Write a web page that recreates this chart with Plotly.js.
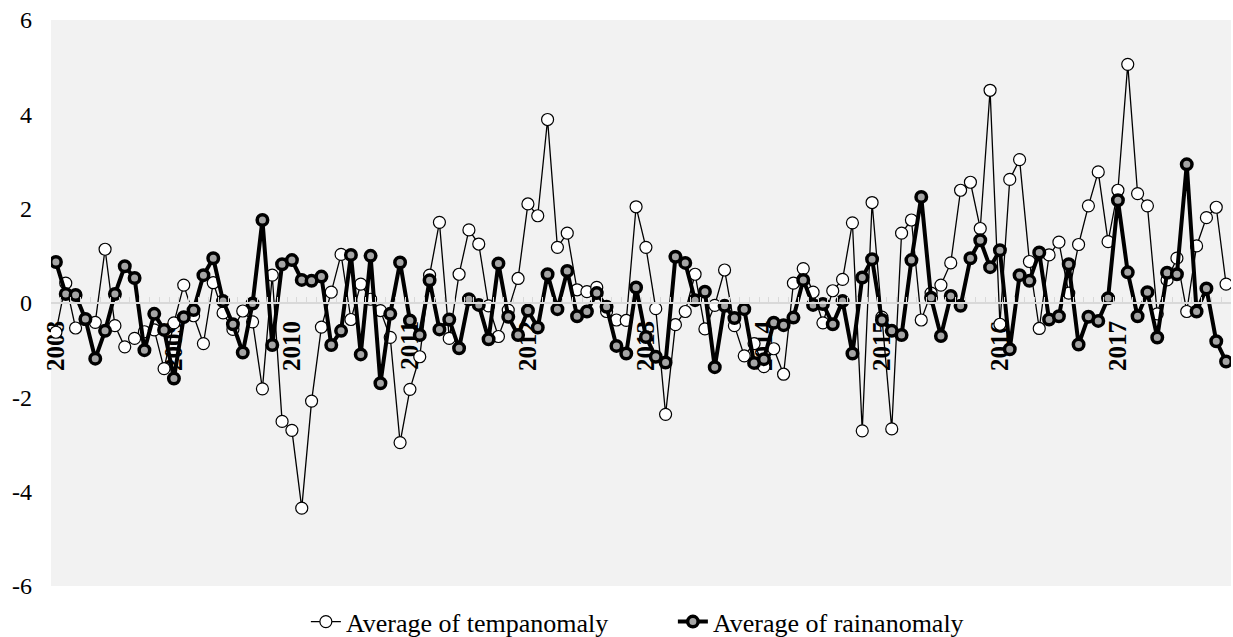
<!DOCTYPE html>
<html>
<head>
<meta charset="utf-8">
<script src="https://cdn.plot.ly/plotly-3.0.1.min.js"></script>
<style>html,body{margin:0;padding:0;background:#fff;}#chart{width:1233px;height:637px;}</style>
</head>
<body>
<div id="chart"></div>
<script>
const years = [2008, 2009, 2010, 2011, 2012, 2013, 2014, 2015, 2016, 2017];
const monthNums = ['01','02','03','04','05','06','07','08','09','10','11','12'];
const yearLabels = ['2008','2009','2010','2011','2012','2013','2014','2015','2016','2017'];
const yTickVals = [-6, -4, -2, 0, 2, 4, 6];
const yTickLabels = ['-6', '-4', '-2', '0', '2', '4', '6'];

const tempAnomaly = [
  -0.62, 0.42, -0.53, -0.35, -0.41, 1.14, -0.48, -0.93, -0.75, -0.61, -0.57, -1.39,
  -0.42, 0.38, -0.27, -0.86, 0.43, -0.21, -0.56, -0.17, -0.40, -1.82, 0.59, -2.51,
  -2.70, -4.35, -2.08, -0.51, 0.23, 1.03, -0.35, 0.40, 0.08, -0.16, -0.73, -2.96,
  -1.83, -1.14, 0.59, 1.71, -0.75, 0.61, 1.55, 1.25, -0.06, -0.71, -0.15, 0.52,
  2.10, 1.85, 3.89, 1.18, 1.48, 0.28, 0.24, 0.33, -0.18, -0.36, -0.37, 2.04,
  1.18, -0.12, -2.36, -0.46, -0.18, 0.61, -0.55, -0.05, 0.70, -0.48, -1.12, -0.86,
  -1.35, -0.97, -1.51, 0.42, 0.73, 0.23, -0.42, 0.26, 0.50, 1.70, -2.71, 2.13,
  -0.30, -2.67, 1.48, 1.76, -0.36, 0.21, 0.38, 0.85, 2.39, 2.56, 1.58, 4.51,
  -0.45, 2.62, 3.04, 0.88, -0.54, 1.02, 1.29, 0.21, 1.24, 2.06, 2.78, 1.30,
  2.39, 5.06, 2.32, 2.06, -0.23, 0.49, 0.95, -0.18, 1.21, 1.81, 2.03, 0.40
];

const rainAnomaly = [
  0.87, 0.19, 0.17, -0.34, -1.18, -0.59, 0.19, 0.78, 0.53, -1.00, -0.23, -0.57,
  -1.60, -0.30, -0.15, 0.59, 0.95, 0.04, -0.45, -1.05, -0.01, 1.76, -0.89, 0.82,
  0.91, 0.49, 0.47, 0.56, -0.89, -0.59, 1.02, -1.09, 1.00, -1.70, -0.23, 0.86,
  -0.37, -0.68, 0.48, -0.56, -0.35, -0.96, 0.08, -0.04, -0.77, 0.84, -0.29, -0.68,
  -0.16, -0.52, 0.61, -0.13, 0.68, -0.28, -0.18, 0.21, -0.08, -0.91, -1.07, 0.33,
  -0.72, -1.14, -1.26, 0.98, 0.85, 0.06, 0.24, -1.36, -0.06, -0.32, -0.13, -1.27,
  -1.19, -0.42, -0.47, -0.31, 0.49, -0.04, -0.02, -0.45, 0.04, -1.07, 0.54, 0.93,
  -0.36, -0.59, -0.68, 0.91, 2.25, 0.11, -0.70, 0.15, -0.06, 0.95, 1.33, 0.76,
  1.12, -0.98, 0.59, 0.47, 1.07, -0.35, -0.28, 0.82, -0.88, -0.29, -0.38, 0.10,
  2.18, 0.65, -0.28, 0.23, -0.73, 0.64, 0.61, 2.94, -0.18, 0.31, -0.81, -1.24
];

const categories = [];
years.forEach(y => monthNums.forEach(m => categories.push(y + '-' + m)));
const januaries = years.map(y => y + '-01');

const serif = '"Liberation Serif", "Times New Roman", serif';

const traces = [
  {
    name: 'Average of tempanomaly',
    x: categories, y: tempAnomaly,
    xaxis: 'x', yaxis: 'y',
    type: 'scatter', mode: 'lines+markers',
    line: {color: '#000000', width: 1.3},
    marker: {symbol: 'circle', size: 12, color: '#ffffff', line: {color: '#000000', width: 1.2}}
  },
  {
    name: 'Average of rainanomaly',
    x: categories, y: rainAnomaly,
    xaxis: 'x2', yaxis: 'y',
    type: 'scatter', mode: 'lines+markers',
    line: {color: '#000000', width: 4},
    marker: {symbol: 'circle', size: 10.5, color: '#a5a5a5', line: {color: '#000000', width: 3.5}}
  }
];

const layout = {
  width: 1233, height: 637,
  paper_bgcolor: '#ffffff',
  plot_bgcolor: '#f2f2f2',
  margin: {l: 51, r: 2, t: 20, b: 51, autoexpand: false},
  font: {family: serif, size: 25, color: '#000000'},
  showlegend: true,
  legend: {
    orientation: 'h',
    x: 0.216, xanchor: 'left',
    yref: 'container', y: 0.024, yanchor: 'middle',
    entrywidth: 322, entrywidthmode: 'pixels',
    font: {family: serif, size: 26, color: '#000000'},
    bgcolor: 'rgba(0,0,0,0)'
  },
  xaxis: {
    type: 'category', categoryorder: 'array', categoryarray: categories,
    range: [-0.5, categories.length - 0.5],
    anchor: 'free', position: 0.5,
    tickmode: 'linear', tick0: 0, dtick: 1, tickson: 'boundaries',
    ticks: 'inside', ticklen: 5, tickwidth: 1, tickcolor: '#d9d9d9',
    showticklabels: false,
    showline: true, linecolor: '#d9d9d9', linewidth: 2,
    showgrid: false, zeroline: false, fixedrange: true
  },
  xaxis2: {
    type: 'category', categoryorder: 'array', categoryarray: categories,
    range: [-0.5, categories.length - 0.5],
    overlaying: 'x', anchor: 'free', position: 0.5, side: 'bottom',
    tickmode: 'array', tickvals: januaries, ticktext: yearLabels,
    ticks: '', tickangle: -90, ticklabelstandoff: 12,
    tickfont: {family: serif, size: 25, color: '#000000', weight: 'bold'},
    showline: false, showgrid: false, zeroline: false, layer: 'below traces', fixedrange: true
  },
  yaxis: {
    range: [-6, 6], tickmode: 'array', tickvals: yTickVals, ticktext: yTickLabels,
    ticks: '', ticklabelstandoff: 18,
    tickfont: {family: serif, size: 24, color: '#000000'},
    showgrid: false, zeroline: false, showline: false, fixedrange: true
  }
};

Plotly.newPlot('chart', traces, layout, {displayModeBar: false, staticPlot: true});
</script>
</body>
</html>
